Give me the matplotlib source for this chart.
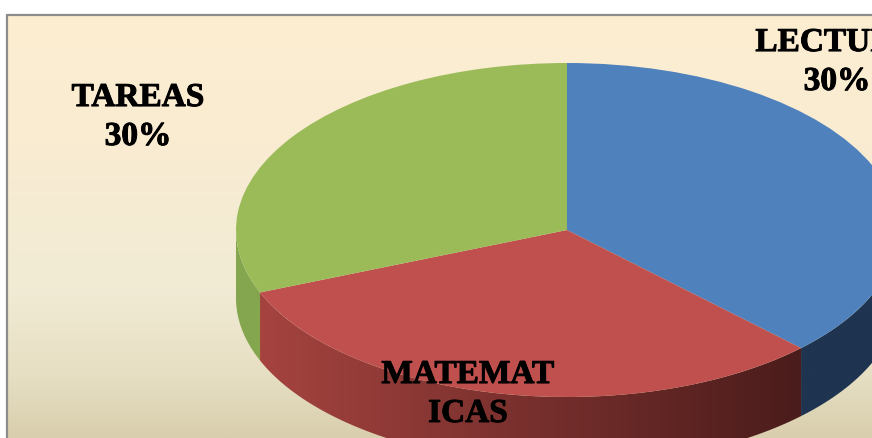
import numpy as np
import matplotlib
matplotlib.use("Agg")
import matplotlib.pyplot as plt
import matplotlib.patheffects as pe
from matplotlib.colors import LinearSegmentedColormap
from matplotlib.patches import Polygon, Rectangle

categories = ["LECTURA", "MATEMATICAS", "TAREAS"]
# slices as drawn in the picture, the printed labels all say 30%
slice_shares = [37.5, 31.4, 31.1]
top_colors = ["#4F81BD", "#C0504D", "#9BBB59"]
wall_left = ["#1F3450", "#A5433F", "#84A64E"]
wall_right = ["#1F3450", "#4A1C1B", "#84A64E"]

W, H = 872, 439
CX, CY = 567, 231
RX, RY = 331, 167
DEPTH = 68 / RY


def px(x):
    return (x - CX) / RX


def py(y):
    return (CY - y) / RY


fig = plt.figure(figsize=(W / 100, H / 100), dpi=100)
ax = fig.add_axes([0, 0, 1, 1])

wedges, _ = ax.pie(slice_shares, colors=top_colors, startangle=90,
                   counterclock=False, radius=1, wedgeprops={"linewidth": 0})
for w in wedges:
    w.set_zorder(5)

# background
bg = LinearSegmentedColormap.from_list(
    "bg", [(0, "#FDEED1"), (0.3, "#F9ECD2"), (0.65, "#F1EBD5"), (0.85, "#E6DFC3"), (1, "#D9CFAE")])
grad = np.linspace(0, 1, 256).reshape(-1, 1)
ax.imshow(grad, cmap=bg, aspect="auto", zorder=0,
          extent=[px(7), px(W), py(H), py(16)], origin="upper")
ax.add_patch(Rectangle((px(7), py(H + 5)), px(W + 5) - px(7), py(16) - py(H + 5),
                       fc="none", ec="#8C8C8C", lw=1.6, zorder=1))

# side walls, only the front half of each slice shows
for w, left, right in zip(wedges, wall_left, wall_right):
    ts = []
    for a in np.linspace(w.theta1, w.theta2, 200):
        ang = a % 360
        if 180 <= ang <= 360:
            ts.append(np.radians(ang))
    if not ts:
        continue
    ts = np.array(sorted(ts))
    xs = np.cos(ts)
    ys = np.sin(ts)
    pts = np.vstack([np.column_stack([xs, ys]),
                     np.column_stack([xs[::-1], ys[::-1] - DEPTH])])
    cmap = LinearSegmentedColormap.from_list("wall", [left, right])
    im = ax.imshow(np.linspace(0, 1, 256).reshape(1, -1), cmap=cmap, aspect="auto", zorder=3,
                   extent=[xs.min(), xs.max(), ys.min() - DEPTH, ys.max()])
    clip = Polygon(pts, transform=ax.transData, fc="none", ec="none")
    ax.add_patch(clip)
    im.set_clip_path(clip)

ax.set_aspect("auto")
ax.set_xlim(px(0), px(W))
ax.set_ylim(py(H), py(0))
ax.axis("off")

font = {"family": "Liberation Serif", "weight": "bold", "size": 24, "color": "black",
        "ha": "center", "va": "center", "zorder": 10, "linespacing": 1.33,
        "path_effects": [pe.withStroke(linewidth=0.7, foreground="black")]}
ax.text(px(138), py(118), "TAREAS\n30%", **font)
ax.text(px(837), py(63), "LECTURA\n30%", clip_on=False, **font)
ax.text(px(468), py(395), "MATEMAT\nICAS", **font)

fig.savefig("out.png", dpi=100, facecolor="white")
